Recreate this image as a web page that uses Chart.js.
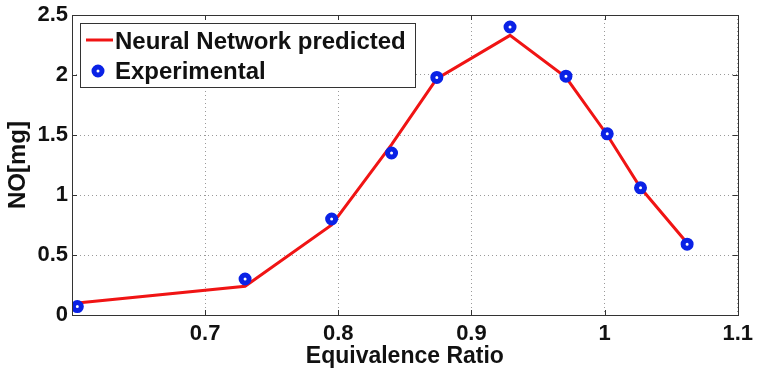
<!DOCTYPE html>
<html>
<head>
<meta charset="utf-8">
<script src="https://cdn.jsdelivr.net/npm/chart.js@4/dist/chart.umd.min.js"></script>
<style>
  html, body { margin: 0; padding: 0; background: #ffffff; }
  #wrap { width: 761px; height: 373px; }
</style>
</head>
<body>
<div id="wrap"><canvas id="c" width="761" height="373"></canvas></div>
<script>
// ---- data ----
const phi = [0.604, 0.730, 0.795, 0.840, 0.874, 0.929, 0.971, 1.002, 1.027, 1.062];
const noExperimental = [0.07, 0.30, 0.80, 1.35, 1.98, 2.40, 1.99, 1.51, 1.06, 0.59];
const noPredicted = [0.10, 0.24, 0.75, 1.42, 1.97, 2.33, 1.98, 1.50, 1.06, 0.60];
const xTicks = [0.7, 0.8, 0.9, 1, 1.1];
const yTicks = [0, 0.5, 1, 1.5, 2, 2.5];
const seriesNames = ['Neural Network predicted', 'Experimental'];
const xTitle = 'Equivalence Ratio';
const yTitle = 'NO[mg]';

const FONT = "'Liberation Sans', Arial, Helvetica, sans-serif";
const RED = '#f01414';
const BLUE = '#0a22e6';

const boxPlugin = {
  id: 'matlabBox',
  afterDraw(chart) {
    const ctx = chart.ctx, a = chart.chartArea;
    ctx.save();
    ctx.setLineDash([]);
    ctx.strokeStyle = '#333';
    ctx.lineWidth = 1;
    ctx.strokeRect(Math.round(a.left) + 0.5, Math.round(a.top) + 0.5,
                   Math.round(a.right - a.left), Math.round(a.bottom - a.top));
    const xs = chart.scales.x, ys = chart.scales.y;
    ctx.beginPath();
    xs.ticks.forEach(t => {
      const px = Math.round(xs.getPixelForValue(t.value)) + 0.5;
      ctx.moveTo(px, a.bottom); ctx.lineTo(px, a.bottom - 5);
      ctx.moveTo(px, a.top); ctx.lineTo(px, a.top + 5);
    });
    ys.ticks.forEach(t => {
      const py = Math.round(ys.getPixelForValue(t.value)) + 0.5;
      ctx.moveTo(a.left, py); ctx.lineTo(a.left + 5, py);
      ctx.moveTo(a.right, py); ctx.lineTo(a.right - 5, py);
    });
    ctx.stroke();
    ctx.restore();
  }
};

const legendPlugin = {
  id: 'insideLegend',
  afterDatasetsDraw(chart) {
    const ctx = chart.ctx, a = chart.chartArea;
    const bx = a.left + 8, by = a.top + 8, bw = 335, bh = 64;
    ctx.save();
    ctx.setLineDash([]);
    ctx.fillStyle = '#ffffff';
    ctx.fillRect(bx, by, bw, bh);
    ctx.strokeStyle = '#333';
    ctx.lineWidth = 1;
    ctx.strokeRect(bx + 0.5, by + 0.5, bw, bh);
    const dsLine = chart.data.datasets.find(d => d.label === seriesNames[0]);
    const dsPts = chart.data.datasets.find(d => d.label === seriesNames[1]);
    // line entry
    ctx.strokeStyle = dsLine.borderColor;
    ctx.lineWidth = 3;
    ctx.beginPath();
    ctx.moveTo(bx + 6, by + 17); ctx.lineTo(bx + 33, by + 17);
    ctx.stroke();
    // marker entry
    ctx.beginPath();
    ctx.arc(bx + 18, by + 48, 4, 0, Math.PI * 2);
    ctx.fillStyle = '#fff';
    ctx.fill();
    ctx.lineWidth = 5;
    ctx.strokeStyle = dsPts.borderColor;
    ctx.stroke();
    // text
    ctx.fillStyle = '#111';
    ctx.font = "bold 24px " + FONT;
    ctx.textBaseline = 'alphabetic';
    ctx.textAlign = 'left';
    ctx.fillText(dsLine.label, bx + 35, by + 26);
    ctx.fillText(dsPts.label, bx + 35, by + 56);
    ctx.restore();
  }
};

new Chart(document.getElementById('c'), {
  type: 'scatter',
  data: {
    datasets: [
      {
        label: seriesNames[1],
        data: phi.map((x, i) => ({ x: x, y: noExperimental[i] })),
        showLine: false,
        pointRadius: 4,
        pointBorderWidth: 5,
        pointBackgroundColor: '#ffffff',
        pointBorderColor: BLUE,
        borderColor: BLUE,
        backgroundColor: '#ffffff',
        order: 0
      },
      {
        label: seriesNames[0],
        data: phi.map((x, i) => ({ x: x, y: noPredicted[i] })),
        showLine: true,
        borderColor: RED,
        borderWidth: 3,
        pointRadius: 0,
        tension: 0,
        order: 1
      }
    ]
  },
  options: {
    responsive: false,
    animation: false,
    events: [],
    layout: { padding: { left: 0, right: 21, top: 12, bottom: 0 } },
    plugins: {
      legend: { display: false },
      tooltip: { enabled: false }
    },
    scales: {
      x: {
        type: 'linear',
        min: 0.6,
        max: 1.1,
        afterBuildTicks: s => { s.ticks = xTicks.map(v => ({ value: v })); },
        afterFit: s => { s.height = 58; },
        grid: { color: '#9a9a9a', lineWidth: 1, drawTicks: false },
        border: { display: false, dash: [1, 3] },
        ticks: {
          color: '#111',
          padding: 8,
          maxRotation: 0,
          font: { family: FONT, size: 22, weight: 'bold', lineHeight: 1 },
          callback: v => String(v)
        },
        title: {
          display: true,
          text: xTitle,
          color: '#111',
          padding: { top: 0, bottom: 3 },
          font: { family: FONT, size: 23, weight: 'bold' }
        }
      },
      y: {
        type: 'linear',
        min: 0,
        max: 2.5,
        afterBuildTicks: s => { s.ticks = yTicks.map(v => ({ value: v })); },
        afterFit: s => { s.width = 72; },
        grid: { color: '#9a9a9a', lineWidth: 1, drawTicks: false },
        border: { display: false, dash: [1, 3] },
        ticks: {
          color: '#111',
          padding: 4,
          font: { family: FONT, size: 22, weight: 'bold', lineHeight: 1 },
          callback: v => String(v)
        },
        title: {
          display: true,
          text: yTitle,
          color: '#111',
          padding: { top: 4, bottom: 0 },
          font: { family: FONT, size: 24, weight: 'bold' }
        }
      }
    }
  },
  plugins: [legendPlugin, boxPlugin]
});
</script>
</body>
</html>
